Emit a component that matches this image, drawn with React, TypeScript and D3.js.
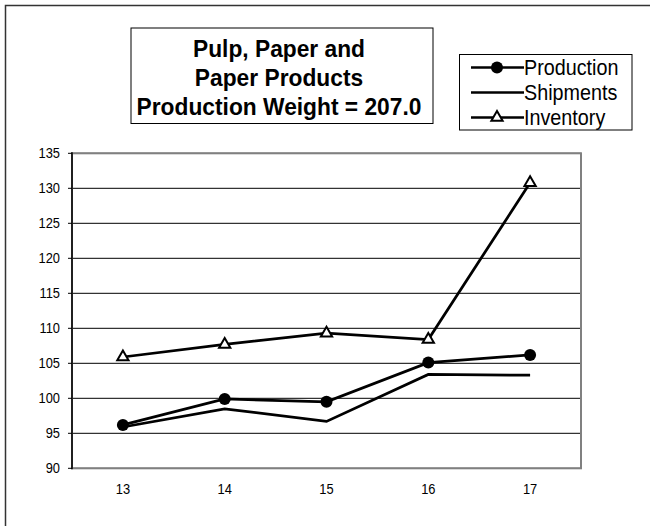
import React from "react";
import * as d3 from "d3";

const categories = ["13", "14", "15", "16", "17"];
const production = [96.2, 99.9, 99.5, 105.1, 106.2];
const shipments = [95.9, 98.5, 96.7, 103.4, 103.3];
const inventory = [105.9, 107.7, 109.3, 108.4, 130.8];
const yTicks = [90, 95, 100, 105, 110, 115, 120, 125, 130, 135];
const titleLines = ["Pulp, Paper and", "Paper Products", "Production Weight = 207.0"];
const legendLabels = ["Production", "Shipments", "Inventory"];

const FONT = "'Liberation Sans', Arial, sans-serif";

export default function App() {
  const W = 650, H = 526;
  const left = 72, right = 581, top = 153.3, bottom = 468.3;
  const x = d3.scaleBand<string>().domain(categories).range([left, right]);
  const cx = (c: string) => (x(c) as number) + x.bandwidth() / 2;
  const y = d3.scaleLinear().domain([90, 135]).range([bottom, top]);
  const line = d3
    .line<number>()
    .x((_, i) => cx(categories[i]))
    .y((d) => y(d));
  const tri = d3.symbol().type(d3.symbolTriangle).size(55);

  const legendRows = [67.5, 92.5, 117.5];

  return (
    <svg
      width={W}
      height={H}
      style={{ position: "absolute", left: 0, top: 0, background: "#fff" }}
      fontFamily={FONT}
    >
      <rect x={0} y={0} width={W} height={H} fill="#fff" />
      <rect x={5.5} y={5.5} width={700} height={600} fill="none" stroke="#333" strokeWidth={1.5} />

      {/* title box */}
      <rect x={131} y={28} width={302} height={95.5} fill="#fff" stroke="#000" strokeWidth={1} />
      <g transform="translate(279,0) scale(0.93,1)">
        {titleLines.map((t, i) => (
          <text key={t} x={0} y={57 + i * 29} textAnchor="middle" fontSize={24.5} fontWeight="bold" fill="#000">
            {t}
          </text>
        ))}
      </g>

      {/* legend box */}
      <rect x={459.5} y={54.5} width={172.5} height={75.5} fill="#fff" stroke="#000" strokeWidth={1} />
      {legendRows.map((ly, i) => (
        <g key={i}>
          <line x1={471} x2={524} y1={ly} y2={ly} stroke="#000" strokeWidth={2.5} />
          {i === 0 && <circle cx={497} cy={ly} r={6} fill="#000" />}
          {i === 2 && (
            <path d={tri() as string} transform={`translate(497,${ly})`} fill="#fff" stroke="#000" strokeWidth={2} />
          )}
          <g transform={`translate(524,${ly + 7.5}) scale(0.92,1)`}>
            <text x={0} y={0} fontSize={21.5} fill="#000">
              {legendLabels[i]}
            </text>
          </g>
        </g>
      ))}

      {/* gridlines */}
      {yTicks.map((t) => (
        <line key={t} x1={left} x2={right} y1={y(t)} y2={y(t)} stroke="#000" strokeWidth={1} />
      ))}
      <rect x={left} y={top} width={right - left} height={bottom - top} fill="none" stroke="#808080" strokeWidth={2} />
      <line x1={left} x2={left} y1={top - 1} y2={bottom + 1} stroke="#000" strokeWidth={1.5} />
      {yTicks.map((t) => (
        <line key={"tk" + t} x1={left - 4} x2={left} y1={y(t)} y2={y(t)} stroke="#000" strokeWidth={1} />
      ))}

      {/* y labels */}
      {yTicks.map((t) => (
        <g key={"yl" + t} transform={`translate(60,${y(t) + 5}) scale(0.92,1)`}>
          <text x={0} y={0} textAnchor="end" fontSize={14} fill="#000">
            {t}
          </text>
        </g>
      ))}
      {/* x labels */}
      {categories.map((c) => (
        <g key={"xl" + c} transform={`translate(${cx(c)},494) scale(0.92,1)`}>
          <text x={0} y={0} textAnchor="middle" fontSize={14} fill="#000">
            {c}
          </text>
        </g>
      ))}

      {/* series */}
      <path d={line(shipments) as string} fill="none" stroke="#000" strokeWidth={2.75} />
      <path d={line(production) as string} fill="none" stroke="#000" strokeWidth={2.75} />
      <path d={line(inventory) as string} fill="none" stroke="#000" strokeWidth={2.75} />
      {production.map((v, i) => (
        <circle key={"p" + i} cx={cx(categories[i])} cy={y(v)} r={6} fill="#000" />
      ))}
      {inventory.map((v, i) => (
        <path
          key={"i" + i}
          d={tri() as string}
          transform={`translate(${cx(categories[i])},${y(v)})`}
          fill="#fff"
          stroke="#000"
          strokeWidth={2}
        />
      ))}
    </svg>
  );
}
